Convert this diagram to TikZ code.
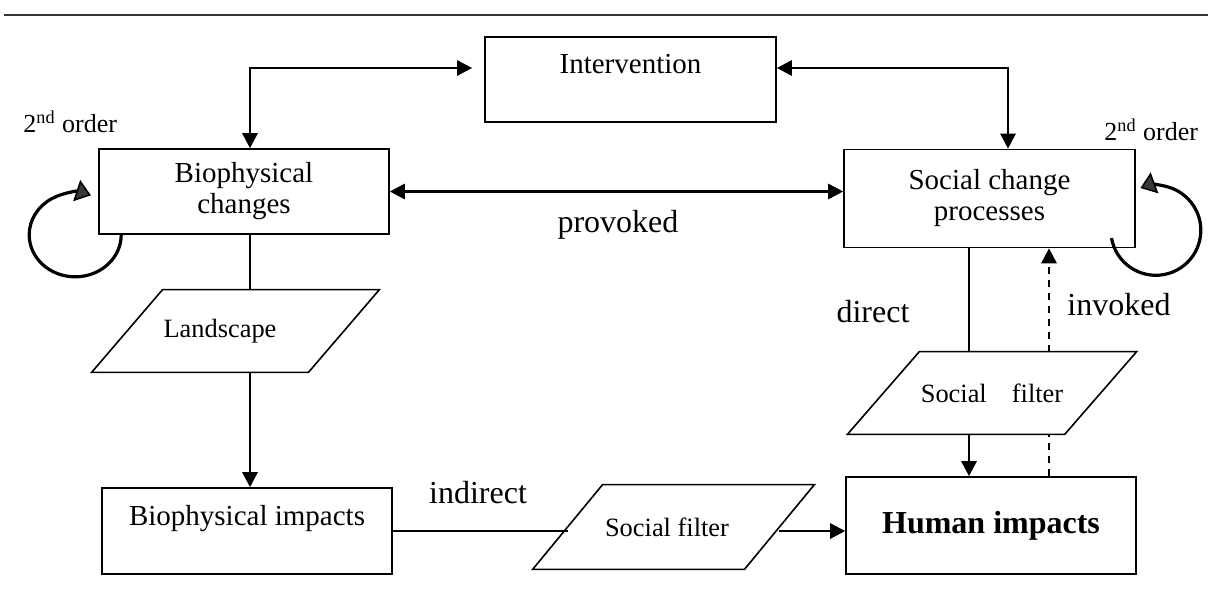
\documentclass[tikz,border=0pt]{standalone}
\usepackage{fontspec}
\setmainfont{Liberation Serif}
\usetikzlibrary{arrows.meta,calc}

% outline of a parallelogram around a rectangular text node
\newcommand\slantframe[2]{%
  \draw[frame] ([xshift=-#2]#1.south west) -- ([xshift=#2]#1.north west)
    -- ([xshift=#2]#1.north east) -- ([xshift=-#2]#1.south east) -- cycle;}

\begin{document}
\begin{tikzpicture}[x=0.5pt,y=-0.5pt,
  >={Triangle[length=7.5pt,width=7.5pt]},
  frame/.style={draw, line width=0.8pt},
  box/.style={frame, inner sep=0pt, align=center,
    font=\fontsize{14.5}{15.5}\selectfont},
  pgram/.style={inner sep=0pt, minimum height=41pt,
    font=\fontsize{13.2}{15}\selectfont},
  conn/.style={line width=1.4pt},
  dashconn/.style={conn, dash pattern=on 3.5pt off 3pt},
  selfloop/.style={line width=1.6pt,
    -{Triangle[length=7.5pt,width=11pt,fill=black!78,line width=0.8pt]}},
  lbl/.style={inner sep=0pt, font=\fontsize{16}{18}\selectfont},
  order/.style={inner sep=0pt, anchor=base west, font=\fontsize{13}{15}\selectfont}
]
\useasboundingbox (0,0) rectangle (1208,606);

% rule across the top
\coordinate (ruleL) at (4,15);
\coordinate (ruleR) at (1208,15);
\draw[line width=1pt, black!80] (ruleL) -- (ruleR);

% guide positions for the connectors
\coordinate (colL) at (250,0);
\coordinate (colS) at (1008,0);
\coordinate (colR) at (969,0);
\coordinate (colD) at (1049,0);
\coordinate (rowI) at (0,68);

% boxes
\node[box, minimum width=145.5pt, minimum height=42.5pt] (int) at (630.5,79.5) {Intervention\\\mbox{}};
\node[box, minimum width=145pt, minimum height=42.5pt] (bio) at (244,191.5) {Biophysical\\changes};
\node[box, minimum width=145.5pt, minimum height=49pt] (sc) at (989.5,198.5) {Social change\\processes};
\node[box, minimum width=145pt, minimum height=43pt] (bi) at (247,531) {Biophysical impacts\\\mbox{}};
\node[box, minimum width=145pt, minimum height=48.5pt,
      font=\fontsize{16}{18}\selectfont\bfseries] (hi) at (991,525.5) {Human impacts};

% filters
\node[pgram, minimum width=108pt] (land) at (235.5,331) {\hspace*{-15.5pt}Landscape};
\slantframe{land}{17.75pt}
\node[pgram, minimum width=108.25pt] (sf1) at (992,393) {Social\hspace{0.95em}filter};
\slantframe{sf1}{18pt}
\node[pgram, minimum width=105.5pt, minimum height=42pt] (sf2) at (673.5,527) {\hspace*{-6.5pt}Social filter};
\slantframe{sf2}{17.5pt}

% labels
\node[lbl] (provoked) at (618,225) {provoked};
\node[lbl] (indirect) at (478,493) {indirect};
\node[lbl] (direct) at (873,312) {direct};
\node[lbl] (invoked) at (1119,305) {invoked};
\node[order] (ordL) at (23,132) {2\textsuperscript{nd} order};
\node[order] (ordR) at (1104,140) {2\textsuperscript{nd} order};

% intervention links
\draw[conn, <->, shorten >=6pt] (bio.north -| colL) |- (int.west |- rowI);
\draw[conn, <->] (int.east |- rowI) -| (sc.north -| colS);
\draw[conn, <->] (bio.east) -- (bio.east -| sc.west);

% biophysical path
\draw[conn] (bio.south -| colL) -- (land.north -| colL);
\draw[conn, ->] (land.south -| colL) -- (bi.north -| colL);
\draw[conn] (bi.east) -- (bi.east -| sf2.west);
\draw[conn, ->] (sf2.east |- bi.east) -- (hi.west |- bi.east);

% social path
\draw[conn] (sc.south -| colR) -- (sf1.north -| colR);
\draw[conn, ->] (sf1.south -| colR) -- (hi.north -| colR);
\draw[dashconn] (hi.north -| colD) -- (sf1.south -| colD);
\draw[dashconn, ->] (sf1.north -| colD) -- (sc.south -| colD);

% second-order feedback loops
\draw[selfloop] ([xshift=11.5pt]bio.south west)
  arc[start angle=0, end angle=-290, x radius=23pt, y radius=21pt];
\draw[selfloop] ([xshift=-12.15pt, yshift=5.1pt]sc.south east)
  arc[start angle=190, end angle=470, x radius=22.5pt, y radius=22.5pt];
\end{tikzpicture}
\end{document}
